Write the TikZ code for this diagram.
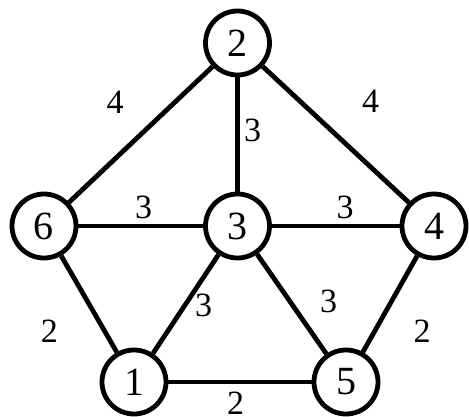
\documentclass[tikz,border=0pt]{standalone}
\usepackage{fontspec}
\setmainfont{Liberation Serif}
\begin{document}
\begin{tikzpicture}[x=1pt,y=-1pt,
  vertex/.style={draw=black,circle,line width=4.8pt,minimum size=64pt,inner sep=0pt,fill=white,font=\fontsize{40}{40}\selectfont},
  wlabel/.style={font=\fontsize{34}{34}\selectfont,inner sep=0pt},
  edge/.style={line width=4.8pt,black}]
\useasboundingbox (0,0) rectangle (469,417);
\node[vertex] (n2) at (237.5,43) {2};
\node[vertex] (n6) at (44,226) {6};
\node[vertex] (n3) at (237.5,226) {3};
\node[vertex] (n4) at (434,226) {4};
\node[vertex] (n1) at (134,382) {1};
\node[vertex] (n5) at (346,382) {5};
\draw[edge] (n2) -- (n6);
\draw[edge] (n2) -- (n3);
\draw[edge] (n2) -- (n4);
\draw[edge] (n6) -- (n3);
\draw[edge] (n3) -- (n4);
\draw[edge] (n6) -- (n1);
\draw[edge] (n3) -- (n1);
\draw[edge] (n3) -- (n5);
\draw[edge] (n4) -- (n5);
\draw[edge] (n1) -- (n5);
\node[wlabel] (l26) at (115,102) {4};
\node[wlabel] (l24) at (370.5,101) {4};
\node[wlabel] (l23) at (252.5,130) {3};
\node[wlabel] (l63) at (143.5,207.5) {3};
\node[wlabel] (l34) at (345,207.5) {3};
\node[wlabel] (l31) at (203.5,305) {3};
\node[wlabel] (l35) at (328.5,301.5) {3};
\node[wlabel] (l61) at (49.5,331) {2};
\node[wlabel] (l45) at (422,331) {2};
\node[wlabel] (l15) at (235.5,403) {2};
\end{tikzpicture}
\end{document}
